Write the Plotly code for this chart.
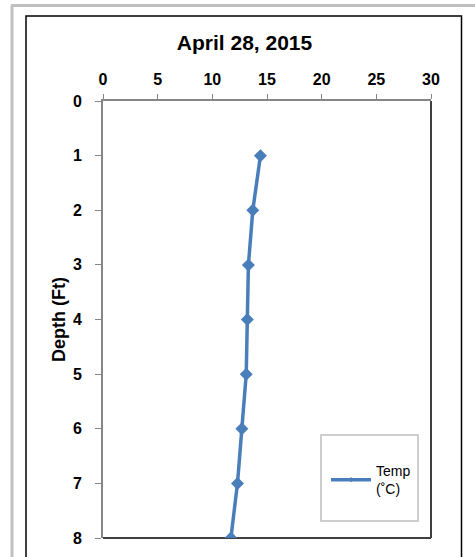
import plotly.graph_objects as go

depth_ft = [1, 2, 3, 4, 5, 6, 7, 8]
temp_c = [14.4, 13.7, 13.3, 13.2, 13.1, 12.7, 12.3, 11.7]
x_ticks = [0, 5, 10, 15, 20, 25, 30]
y_ticks = [0, 1, 2, 3, 4, 5, 6, 7, 8]
series_name = "Temp<br>(˚C)"

W, H = 475, 557
L, R, T, B = 103, 44, 101, 19
pw, ph = W - L - R, H - T - B

def px(x):
    return (x - L) / pw

def py(y):
    return (H - B - y) / ph

BLUE = "#4A7EBB"
FONT = "Liberation Sans, Arial"

fig = go.Figure()
fig.add_trace(go.Scatter(
    x=temp_c, y=depth_ft, mode="lines+markers", name=series_name,
    line=dict(color=BLUE, width=3.5),
    marker=dict(symbol="diamond", size=10, color=BLUE),
    showlegend=False,
))
# legend sample (small marker, as in the reference legend)
fig.add_trace(go.Scatter(
    x=[None], y=[None], mode="lines+markers", name=series_name,
    line=dict(color=BLUE, width=3.5),
    marker=dict(symbol="diamond", size=4, color=BLUE),
    showlegend=True,
))

axis_font = dict(family=FONT, size=16, color="#000000")
fig.update_layout(
    width=W, height=H,
    margin=dict(l=L, r=R, t=T, b=B, autoexpand=False),
    paper_bgcolor="white", plot_bgcolor="white",
    title=dict(text="<b>April 28, 2015</b>", x=244.5 / W, xanchor="center",
               y=1 - 43 / H, yanchor="middle",
               font=dict(family=FONT, size=21, color="#000")),
    xaxis=dict(side="top", range=[0, 30], tickvals=x_ticks,
               ticktext=[f"<b>{v}</b>" for v in x_ticks],
               showgrid=False, zeroline=False, showline=True, linecolor="#868686",
               linewidth=1.5, ticks="outside", ticklen=5, tickcolor="#868686",
               ticklabelstandoff=3, automargin=False,
               tickfont=axis_font),
    yaxis=dict(range=[8, 0], tickvals=y_ticks,
               ticktext=[f"<b>{v}</b>" for v in y_ticks],
               showgrid=False, zeroline=False, showline=True, linecolor="#868686",
               linewidth=2, ticks="outside", ticklen=6, tickcolor="#868686",
               ticklabelstandoff=10, automargin=False,
               tickfont=axis_font,
               title=dict(text="<b>Depth (Ft)</b>", standoff=3,
                          font=dict(family=FONT, size=18, color="#000"))),
    showlegend=True,
    legend=dict(x=px(326), y=py(455), xanchor="left", yanchor="top",
                bgcolor="rgba(0,0,0,0)", borderwidth=0,
                font=dict(family=FONT, size=14, color="#000"),
                itemwidth=40, tracegroupgap=0),
    shapes=[
        # outer light gray frame
        dict(type="line", xref="paper", yref="paper", x0=px(11), x1=px(476), y0=py(5.5), y1=py(5.5),
             line=dict(color="#C0C0C0", width=3), layer="below"),
        dict(type="line", xref="paper", yref="paper", x0=px(12), x1=px(12), y0=py(5.5), y1=py(560),
             line=dict(color="#C0C0C0", width=3), layer="below"),
        # chart area dark box
        dict(type="rect", xref="paper", yref="paper", x0=px(26), x1=px(461.5), y0=py(16), y1=py(570),
             line=dict(color="#000000", width=1.5), layer="below"),
        # plot area border (right, bottom)
        dict(type="line", xref="paper", yref="paper", x0=1, x1=1, y0=0, y1=1,
             line=dict(color="#404040", width=2), layer="below"),
        dict(type="line", xref="paper", yref="paper", x0=0, x1=1, y0=0, y1=0,
             line=dict(color="#404040", width=2), layer="below"),
        # legend box
        dict(type="rect", xref="paper", yref="paper", x0=px(321), x1=px(418), y0=py(435), y1=py(521),
             line=dict(color="#BFBFBF", width=1.5), fillcolor="white", layer="below"),
    ],
)

fig.write_html("out.html", config={"displayModeBar": False},
               post_script="document.body.style.margin='0';")
